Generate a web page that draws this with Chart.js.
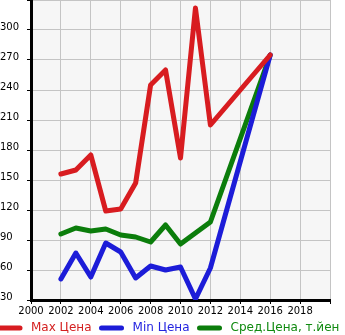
<!DOCTYPE html>
<html>
<head>
<meta charset="utf-8">
<script src="https://cdn.jsdelivr.net/npm/chart.js@4/dist/chart.umd.min.js"></script>
<style>
  html, body { margin: 0; padding: 0; background: #ffffff; }
  #wrap { width: 345px; height: 335px; }
</style>
</head>
<body>
<div id="wrap"><canvas id="c" width="345" height="335"></canvas></div>
<script>
// Years and price series (thousand yen)
const years     = [2002, 2003, 2004, 2005, 2006, 2007, 2008, 2009, 2010, 2011, 2012, 2013, 2014, 2015, 2016];
const maxPrice  = [156, 160, 175, 119, 121, 147, 245, 260, 172, 322, 205, null, null, null, 275];
const minPrice  = [51, 77, 53, 87, 78, 52, 64, 60, 63, 31, 62, null, null, null, 275];
const avgPrice  = [96, 102, 99, 101, 95, 93, 88, 105, 86, 97, 108, null, null, null, 275];
const seriesNames = ['Max Цена', 'Min Цена', 'Сред.Цена, т.йен'];
const lineColors  = ['#d81c20', '#1c1cd8', '#0b7d0b'];
const textColors  = ['#d42020', '#2424e0', '#108a10'];

const toPoints = vals => years.map((y, i) => ({ x: y, y: vals[i] }));

// Light grey plotting area
const plotBg = {
  id: 'plotBg',
  beforeDraw(chart) {
    const { ctx, chartArea: a } = chart;
    ctx.save();
    ctx.fillStyle = '#f6f6f6';
    ctx.fillRect(a.left, a.top, a.right - a.left, a.bottom - a.top);
    ctx.restore();
  }
};

// Single-row legend along the bottom edge: rounded line swatch + coloured name
const bottomLegend = {
  id: 'bottomLegend',
  afterDraw(chart) {
    const ctx = chart.ctx;
    ctx.save();
    ctx.font = '12px "DejaVu Sans"';
    ctx.textBaseline = 'middle';
    ctx.textAlign = 'left';
    ctx.lineWidth = 5;
    ctx.lineCap = 'round';
    const y = 328;
    let tx = 31;
    chart.data.datasets.forEach((ds, i) => {
      ctx.strokeStyle = lineColors[i];
      ctx.beginPath();
      ctx.moveTo(tx - 31, y);
      ctx.lineTo(tx - 11, y);
      ctx.stroke();
      ctx.fillStyle = textColors[i];
      ctx.fillText(ds.label, tx, y);
      tx += ctx.measureText(ds.label).width + 41;
    });
    ctx.restore();
  }
};

const font = { family: 'DejaVu Sans', size: 10 };

new Chart(document.getElementById('c'), {
  type: 'line',
  data: {
    datasets: [maxPrice, minPrice, avgPrice].map((vals, i) => ({
      label: seriesNames[i],
      data: toPoints(vals),
      borderColor: lineColors[i],
      backgroundColor: lineColors[i],
      borderWidth: 5,
      pointRadius: 0,
      spanGaps: true,
      tension: 0,
      borderJoinStyle: 'round',
      borderCapStyle: 'round'
    }))
  },
  options: {
    responsive: false,
    animation: false,
    layout: { padding: { top: 0, right: 15, bottom: 17, left: 0 } },
    plugins: {
      tooltip: { enabled: false },
      legend: { display: false }
    },
    scales: {
      x: {
        type: 'linear',
        min: 2000,
        max: 2020,
        afterFit(scale) {
          scale.height = 18;
          scale.paddingLeft = 0;
          scale.paddingRight = 0;
        },
        ticks: {
          stepSize: 2,
          font, color: '#000',
          padding: 1,
          maxRotation: 0,
          autoSkip: false,
          callback: v => (v >= 2020 ? '' : String(v))
        },
        grid: { color: '#c4c4c4', lineWidth: 1, tickLength: 4, tickColor: '#000' },
        border: { color: '#000', width: 3 }
      },
      y: {
        min: 30,
        max: 330,
        afterFit(scale) {
          scale.width = 31;
          scale.paddingTop = 0;
          scale.paddingBottom = 0;
        },
        ticks: {
          stepSize: 30,
          font, color: '#000',
          crossAlign: 'far',
          padding: 3,
          labelOffset: -3,
          callback: v => (v >= 330 ? '' : String(v))
        },
        grid: { color: '#c4c4c4', lineWidth: 1, tickLength: 4, tickColor: '#000' },
        border: { color: '#000', width: 3 }
      }
    }
  },
  plugins: [plotBg, bottomLegend]
});
</script>
</body>
</html>
